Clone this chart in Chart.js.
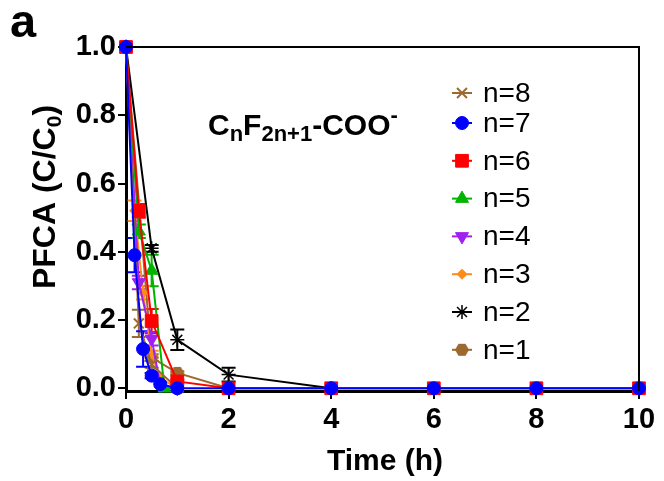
<!DOCTYPE html>
<html>
<head>
<meta charset="utf-8">
<script src="https://cdn.jsdelivr.net/npm/chart.js@4.4.1/dist/chart.umd.min.js"></script>
<style>
html, body { margin: 0; padding: 0; background: #fff; }
canvas { display: block; }
</style>
</head>
<body>
<canvas id="graficaPfca" width="664" height="481"></canvas>
<script>
// datos (tiempo en h, C/C0)
const etiquetas = ['n=8', 'n=7', 'n=6', 'n=5', 'n=4', 'n=3', 'n=2', 'n=1'];

const tiempoN8 = [0, 0.25, 0.5, 1];
const valorN8 = [1, 0.19, 0.07, 0.0];
const errorN8 = [0, 0.04, 0.01, 0];

const tiempoN7 = [0, 0.167, 0.333, 0.5, 0.667, 1, 2, 4, 6, 8, 10];
const valorN7 = [1, 0.39, 0.115, 0.037, 0.012, 0, 0, 0, 0, 0, 0];
const errorN7 = [0, 0.05, 0.052, 0.008, 0, 0, 0, 0, 0, 0, 0];

const tiempoN6 = [0, 0.25, 0.5, 1, 2, 4, 6, 8, 10];
const valorN6 = [1, 0.52, 0.197, 0.02, 0, 0, 0, 0, 0];
const errorN6 = [0, 0.02, 0.035, 0.005, 0, 0, 0, 0, 0];

const tiempoN5 = [0, 0.25, 0.5, 0.75, 1];
const valorN5 = [1, 0.46, 0.345, 0.0, 0.0];
const errorN5 = [0, 0.02, 0.046, 0, 0];

const tiempoN4 = [0, 0.25, 0.5, 0.667, 1];
const valorN4 = [1, 0.31, 0.145, 0.01, 0];
const errorN4 = [0, 0.02, 0.02, 0, 0];

const tiempoN3 = [0, 0.167, 0.333, 0.5, 0.667, 1];
const valorN3 = [1, 0.52, 0.28, 0.1, 0.03, 0];
const errorN3 = [0, 0.03, 0.02, 0.01, 0, 0];

const tiempoN2 = [0, 0.5, 1, 2, 4];
const valorN2 = [1, 0.41, 0.142, 0.04, 0];
const errorN2 = [0, 0.01, 0.03, 0.02, 0];

const tiempoN1 = [0, 0.5, 1, 2];
const valorN1 = [1, 0.09, 0.045, 0];
const errorN1 = [0, 0.01, 0.005, 0];

const ticksX = [0, 2, 4, 6, 8, 10];
const ticksY = [0, 0.2, 0.4, 0.6, 0.8, 1.0];

const FUENTE = "'Liberation Sans', Arial, Helvetica, sans-serif";
const MARRON = '#9c6a30';

function hexagono(r, color) {
    const c = document.createElement('canvas');
    c.width = c.height = 2 * r + 2;
    const g = c.getContext('2d');
    g.beginPath();
    for (let i = 0; i < 6; i++) {
        const a = Math.PI / 3 * i;
        g.lineTo(r + 1 + r * Math.cos(a), r + 1 + r * Math.sin(a));
    }
    g.closePath();
    g.fillStyle = color;
    g.fill();
    return c;
}

function puntos(t, v) {
    return t.map((x, i) => ({ x: x, y: v[i] }));
}

function serie(idx, t, v, err, color, estilo, extra) {
    return Object.assign({
        label: etiquetas[idx],
        data: puntos(t, v),
        errores: err,
        borderColor: color,
        backgroundColor: color,
        pointBorderColor: color,
        pointBackgroundColor: color,
        borderWidth: 2,
        pointStyle: estilo,
        pointRadius: 7,
        pointBorderWidth: 1,
        tension: 0,
        clip: false
    }, extra || {});
}

const datasets = [
    serie(0, tiempoN8, valorN8, errorN8, MARRON, 'crossRot', { pointBorderWidth: 2, pointRadius: 7, order: 2 }),
    serie(1, tiempoN7, valorN7, errorN7, '#0000ff', 'circle', { pointRadius: 6.5, order: 0 }),
    serie(2, tiempoN6, valorN6, errorN6, '#ff0000', 'rect', { pointRadius: 9, order: 1 }),
    serie(3, tiempoN5, valorN5, errorN5, '#00b400', 'triangle', { pointRadius: 7.5, order: 3 }),
    serie(4, tiempoN4, valorN4, errorN4, '#a020f0', 'triangle', { pointRadius: 7.5, pointRotation: 180, order: 4 }),
    serie(5, tiempoN3, valorN3, errorN3, '#ff8c1a', 'rectRot', { pointRadius: 5, order: 5 }),
    serie(6, tiempoN2, valorN2, errorN2, '#000000', 'star', { pointRadius: 7, pointBorderWidth: 1.5, order: 6 }),
    serie(7, tiempoN1, valorN1, errorN1, MARRON, hexagono(7, MARRON), { order: 7 })
];

const barrasError = {
    id: 'barrasError',
    beforeDatasetsDraw(chart) {
        const ctx = chart.ctx;
        const sx = chart.scales.x, sy = chart.scales.y;
        ctx.save();
        chart.data.datasets.forEach(ds => {
            ctx.strokeStyle = ds.borderColor;
            ctx.lineWidth = 2;
            ds.data.forEach((p, j) => {
                const e = ds.errores[j];
                if (!e) return;
                const x = sx.getPixelForValue(p.x);
                const y1 = sy.getPixelForValue(p.y + e);
                const y2 = sy.getPixelForValue(p.y - e);
                ctx.beginPath();
                ctx.moveTo(x, y1); ctx.lineTo(x, y2);
                ctx.moveTo(x - 7, y1); ctx.lineTo(x + 7, y1);
                ctx.moveTo(x - 7, y2); ctx.lineTo(x + 7, y2);
                ctx.stroke();
            });
        });
        ctx.restore();
    }
};

function textoPartes(ctx, partes, x, y) {
    partes.forEach(p => {
        ctx.font = p.f;
        ctx.fillText(p.t, x, y + (p.dy || 0));
        x += ctx.measureText(p.t).width;
    });
}

function anchoPartes(ctx, partes) {
    let w = 0;
    partes.forEach(p => { ctx.font = p.f; w += ctx.measureText(p.t).width; });
    return w;
}

const decoracion = {
    id: 'decoracion',
    afterDraw(chart) {
        const ctx = chart.ctx;
        const a = chart.chartArea;
        ctx.save();
        // marco superior y derecho
        ctx.strokeStyle = '#000';
        ctx.lineWidth = 2;
        ctx.beginPath();
        ctx.moveTo(a.left, a.top);
        ctx.lineTo(a.right, a.top);
        ctx.lineTo(a.right, a.bottom);
        ctx.stroke();

        ctx.fillStyle = '#000';
        ctx.textAlign = 'left';
        ctx.textBaseline = 'alphabetic';

        // letra del panel
        ctx.font = 'bold 47px ' + FUENTE;
        ctx.fillText('a', 10, 37);

        // titulo eje x
        ctx.textAlign = 'center';
        ctx.font = 'bold 30px ' + FUENTE;
        ctx.fillText('Time (h)', 385, 470);

        // titulo eje y con subindice
        ctx.textAlign = 'left';
        const tituloY = [
            { t: 'PFCA (C/C', f: 'bold 32px ' + FUENTE },
            { t: '0', f: 'bold 21px ' + FUENTE, dy: 6 },
            { t: ')', f: 'bold 32px ' + FUENTE }
        ];
        ctx.save();
        ctx.translate(43, 197);
        ctx.rotate(-Math.PI / 2);
        textoPartes(ctx, tituloY, -anchoPartes(ctx, tituloY) / 2, 11.5);
        ctx.restore();

        // formula
        const formula = [
            { t: 'C', f: 'bold 30px ' + FUENTE },
            { t: 'n', f: 'bold 22px ' + FUENTE, dy: 6 },
            { t: 'F', f: 'bold 30px ' + FUENTE },
            { t: '2n+1', f: 'bold 22px ' + FUENTE, dy: 6 },
            { t: '-COO', f: 'bold 30px ' + FUENTE },
            { t: '-', f: 'bold 22px ' + FUENTE, dy: -13 }
        ];
        textoPartes(ctx, formula, 208, 135);

        // leyenda
        const dibujarPunto = Chart.helpers && Chart.helpers.drawPoint;
        chart.data.datasets.forEach((ds, i) => {
            const y = i === 0 ? 93 : 123 + 37.8 * (i - 1);
            const xm = 462;
            ctx.strokeStyle = ds.borderColor;
            ctx.fillStyle = ds.borderColor;
            ctx.lineWidth = 2;
            ctx.beginPath();
            ctx.moveTo(xm - 10, y);
            ctx.lineTo(xm + 10, y);
            ctx.stroke();
            if (dibujarPunto) {
                ctx.lineWidth = ds.pointBorderWidth;
                dibujarPunto(ctx, {
                    pointStyle: ds.pointStyle,
                    radius: ds.pointRadius,
                    rotation: ds.pointRotation || 0,
                    borderWidth: ds.pointBorderWidth
                }, xm, y);
            }
            ctx.fillStyle = '#000';
            ctx.font = '28px ' + FUENTE;
            ctx.textBaseline = 'middle';
            ctx.fillText(ds.label, 483, y + 1);
            ctx.textBaseline = 'alphabetic';
        });
        ctx.restore();
    }
};

const fuenteTicks = { family: FUENTE, size: 29, weight: 'bold' };

new Chart(document.getElementById('graficaPfca').getContext('2d'), {
    type: 'line',
    data: { datasets: datasets },
    options: {
        responsive: false,
        animation: false,
        devicePixelRatio: 1,
        layout: { padding: { top: 47, right: 25, left: 0, bottom: 0 } },
        plugins: { legend: { display: false }, tooltip: { enabled: false } },
        scales: {
            x: {
                type: 'linear',
                min: 0,
                max: 10,
                afterBuildTicks: s => { s.ticks = ticksX.map(v => ({ value: v })); },
                afterFit: s => { s.height = 90; },
                grid: { drawOnChartArea: false, drawTicks: true, tickLength: 8, color: '#000', lineWidth: 2 },
                border: { display: true, color: '#000', width: 3 },
                ticks: { color: '#000', font: fuenteTicks, padding: 4, maxRotation: 0 }
            },
            y: {
                type: 'linear',
                min: -0.008,
                max: 1,
                afterBuildTicks: s => { s.ticks = ticksY.map(v => ({ value: v })); },
                afterFit: s => { s.width = 126; },
                grid: { drawOnChartArea: false, drawTicks: true, tickLength: 8, color: '#000', lineWidth: 2 },
                border: { display: true, color: '#000', width: 3 },
                ticks: { color: '#000', font: fuenteTicks, padding: 2, callback: v => v.toFixed(1) }
            }
        }
    },
    plugins: [barrasError, decoracion]
});
</script>
</body>
</html>
